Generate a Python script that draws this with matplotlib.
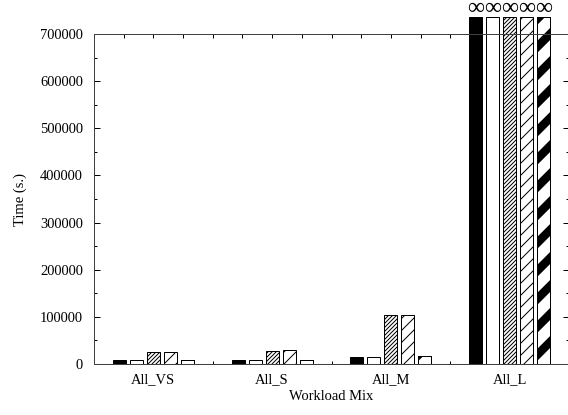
import numpy as np
import matplotlib
matplotlib.use("Agg")
import matplotlib.pyplot as plt
from matplotlib.collections import PolyCollection
from matplotlib.transforms import IdentityTransform

plt.rcParams['font.family'] = ['Liberation Serif', 'DejaVu Serif']
plt.rcParams['hatch.linewidth'] = 1.0

# data (seconds); inf = did not finish
mixes = ["All_VS", "All_S", "All_M", "All_L"]
series1 = [8500, 8500, 14000, np.inf]
series2 = [7500, 8000, 15000, np.inf]
series3 = [26000, 28000, 103000, np.inf]
series4 = [26000, 30000, 103000, np.inf]
series5 = [8000, 8500, 16000, np.inf]
yticks = [0, 100000, 200000, 300000, 400000, 500000, 600000, 700000]

DPI = 72
fig = plt.figure(figsize=(568 / DPI, 415 / DPI), dpi=DPI)
ax = fig.add_axes([94 / 568, 51 / 415, 475 / 568, 330 / 415])

ymax = 700000
inf_draw = 736000  # bars for infinite runs poke out above the frame
x = np.arange(len(mixes))
w = 0.11
step = 0.143


def heights(vals):
    return [inf_draw if np.isinf(v) else v for v in vals]


styles = [
    dict(color="black", hatch=None),
    dict(color="white", hatch=None),
    dict(color="white", hatch="//////"),
    dict(color="white", hatch="//"),
    dict(color="white", hatch=None),
]
all_series = [series1, series2, series3, series4, series5]
containers = []
for i, (vals, st) in enumerate(zip(all_series, styles)):
    bc = ax.bar(x + (i - 2) * step, heights(vals), w, color=st["color"],
                edgecolor="black", linewidth=1.0, hatch=st["hatch"],
                clip_on=False, zorder=1)
    containers.append(bc)

ax.set_xlim(-0.5, 3.5)
ax.set_ylim(0, ymax)

# thick black/white stripes for the 5th series, drawn in pixel space
period = 28.0
thick = 12.0
for bar in containers[4]:
    bb = bar.get_window_extent()
    x0, x1, y0, y1 = bb.x0, bb.x1, bb.y0, bb.y1
    polys = []
    c = y0 - x1 - thick
    while c < y1 - x0:
        polys.append([(x0, x0 + c), (x1, x1 + c), (x1, x1 + c + thick), (x0, x0 + c + thick)])
        c += period
    pc = PolyCollection(polys, facecolors="black", edgecolors="none",
                        transform=IdentityTransform(), zorder=1.5)
    ax.add_collection(pc, autolim=False)
    pc.set_clip_path(bar)
    ax.bar(bar.get_x() + bar.get_width() / 2, bar.get_height(), bar.get_width(),
           facecolor="none", edgecolor="black", linewidth=1.0, clip_on=False, zorder=1.6)

# infinity marks above the unfinished runs
for bc, vals in zip(containers, all_series):
    for bar, v in zip(bc, vals):
        if np.isinf(v):
            ax.annotate("\u221e", (bar.get_x() + bar.get_width() / 2, bar.get_height()),
                        xytext=(0, 9), textcoords="offset points",
                        ha="center", va="center", fontsize=24, annotation_clip=False)

for side in ["left", "bottom", "top", "right"]:
    ax.spines[side].set_linewidth(1.0)
    ax.spines[side].set_color("0.25")
    ax.spines[side].set_zorder(3)
ax.spines["right"].set_visible(False)

ax.set_yticks(yticks)
ax.set_yticklabels([str(t) for t in yticks])
ax.set_yticks(np.arange(50000, ymax, 100000), minor=True)
ax.set_xticks(x)
ax.set_xticklabels(mixes)
ax.set_xticks(np.arange(0.5, 3.0, 1.0), minor=True)

ax.tick_params(axis="y", which="both", direction="in", left=True, right=True,
               labelsize=14.5, pad=11)
ax.tick_params(axis="y", which="major", length=6, width=1)
ax.tick_params(axis="y", which="minor", length=3, width=1)
ax.tick_params(axis="x", which="major", length=0, labelsize=14.5, pad=9)
ax.tick_params(axis="x", which="minor", direction="in", length=3, width=1)

# top frame ticks
sec = ax.secondary_xaxis("top")
sec.set_xticks(np.arange(-0.25, 3.5, 0.25))
sec.tick_params(direction="in", length=4, width=1, labeltop=False)
sec.spines["top"].set_visible(False)

ax.set_ylabel("Time (s.)", fontsize=14.5, labelpad=13)
ax.set_xlabel("Workload Mix", fontsize=14.5, labelpad=4)

fig.savefig("out.png", dpi=DPI)
